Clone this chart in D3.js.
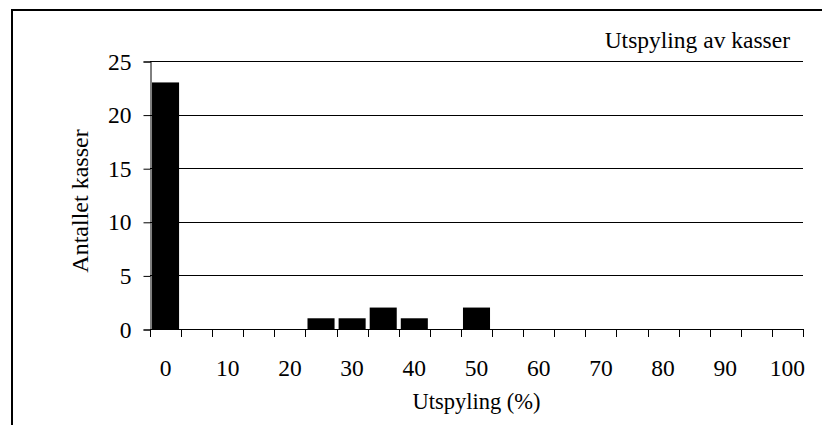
<!DOCTYPE html>
<html lang="no">
<head>
<meta charset="UTF-8">
<title>Utspyling av kasser</title>
<script src="https://cdn.jsdelivr.net/npm/d3@7"></script>
<style>
    body { margin: 0; background: #fff; }
    svg text { font-family: "Liberation Serif", "Times New Roman", serif; fill: #000; }
</style>
</head>
<body>
<svg width="822" height="425"></svg>
<script>
    // data
    var categories = ["0","5","10","15","20","25","30","35","40","45","50",
                      "55","60","65","70","75","80","85","90","95","100"];
    var counts = [23, 0, 0, 0, 0, 1, 1, 2, 1, 0, 2,
                  0, 0, 0, 0, 0, 0, 0, 0, 0, 0];
    var yTicks = [0, 5, 10, 15, 20, 25];
    var xLabels = ["0","10","20","30","40","50","60","70","80","90","100"];

    var svg = d3.select("svg");

    // outer frame (left and top edges visible)
    svg.append("path")
        .attr("d", "M12,425 V10 H822")
        .attr("fill", "none")
        .attr("stroke", "#000")
        .attr("stroke-width", 2);

    var plotLeft = 150, plotRight = 803, plotTop = 61, plotBottom = 329;

    var x = d3.scaleBand()
        .domain(categories)
        .range([plotLeft, plotRight])
        .paddingInner(0.13)
        .paddingOuter(0.065);

    var y = d3.scaleLinear()
        .domain([0, 25])
        .range([plotBottom, plotTop]);

    // gridlines
    svg.append("g")
        .selectAll("line")
        .data(yTicks.filter(function(d) { return d > 0; }))
        .enter().append("line")
        .attr("x1", plotLeft)
        .attr("x2", plotRight)
        .attr("y1", function(d) { return Math.round(y(d)) + 0.5; })
        .attr("y2", function(d) { return Math.round(y(d)) + 0.5; })
        .attr("stroke", "#000")
        .attr("stroke-width", 1);

    // bars
    svg.append("g")
        .selectAll("rect")
        .data(counts.map(function(v, i) { return {cat: categories[i], v: v}; })
                    .filter(function(d) { return d.v > 0; }))
        .enter().append("rect")
        .attr("x", function(d) { return x(d.cat); })
        .attr("width", x.bandwidth())
        .attr("y", function(d) { return y(d.v); })
        .attr("height", function(d) { return y(0) - y(d.v); })
        .attr("fill", "#000");

    // y axis
    var yAxis = svg.append("g")
        .attr("transform", "translate(" + (plotLeft + 0.5) + ",0.5)")
        .call(d3.axisLeft(y).tickValues(yTicks).tickSize(7).tickPadding(12));
    yAxis.select(".domain").attr("stroke", "#000");
    yAxis.selectAll("line").attr("stroke", "#000");
    yAxis.selectAll("text").attr("font-size", 23.5).attr("font-family", null);

    // x axis: ticks at category boundaries
    var step = (plotRight - plotLeft) / categories.length;
    var xAxisG = svg.append("g");
    xAxisG.append("line")
        .attr("x1", plotLeft).attr("x2", plotRight)
        .attr("y1", plotBottom + 0.5).attr("y2", plotBottom + 0.5)
        .attr("stroke", "#000");
    xAxisG.selectAll("line.tick")
        .data(d3.range(categories.length + 1))
        .enter().append("line")
        .attr("class", "tick")
        .attr("x1", function(i) { return Math.round(plotLeft + i * step) + 0.5; })
        .attr("x2", function(i) { return Math.round(plotLeft + i * step) + 0.5; })
        .attr("y1", plotBottom)
        .attr("y2", plotBottom + 8)
        .attr("stroke", "#000");
    xAxisG.selectAll("text")
        .data(xLabels)
        .enter().append("text")
        .attr("x", function(d) { return x(d) + x.bandwidth() / 2; })
        .attr("y", 376)
        .attr("text-anchor", "middle")
        .attr("font-size", 23.5)
        .text(function(d) { return d; });

    // axis titles
    svg.append("text")
        .attr("x", (plotLeft + plotRight) / 2)
        .attr("y", 409)
        .attr("text-anchor", "middle")
        .attr("font-size", 22.5)
        .text("Utspyling (%)");

    svg.append("text")
        .attr("transform", "translate(88,201) rotate(-90)")
        .attr("text-anchor", "middle")
        .attr("font-size", 24)
        .text("Antallet kasser");

    // legend label
    svg.append("text")
        .attr("x", 790)
        .attr("y", 48)
        .attr("text-anchor", "end")
        .attr("font-size", 23.5)
        .text("Utspyling av kasser");
</script>
</body>
</html>
